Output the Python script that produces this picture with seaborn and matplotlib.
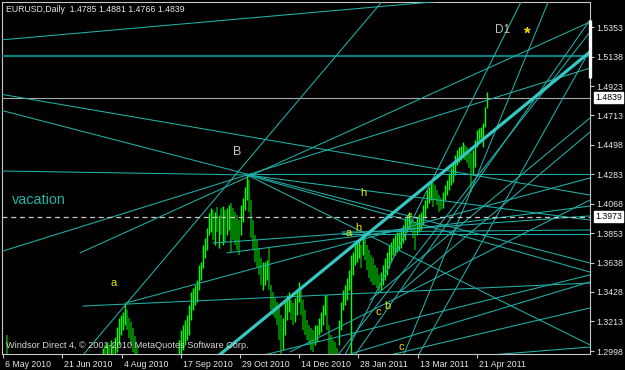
import matplotlib
matplotlib.use("Agg")
import matplotlib.pyplot as plt
import matplotlib.transforms as mtransforms
import numpy as np
import pandas as pd
import seaborn as sns

# ---------------- data ----------------
title_text = "EURUSD,Daily  1.4785 1.4881 1.4766 1.4839"
copyright_text = "Windsor Direct 4, \u00a9 2001-2010 MetaQuotes Software Corp."

x_tick_bars = [0, 29.5, 59.5, 89, 118.5, 148, 177.5, 207.5, 237]
x_tick_labels = ["6 May 2010", "21 Jun 2010", "4 Aug 2010", "17 Sep 2010", "29 Oct 2010",
                 "14 Dec 2010", "28 Jan 2011", "13 Mar 2011", "21 Apr 2011"]
y_tick_prices = [1.5353, 1.5138, 1.4923, 1.4713, 1.4498, 1.4283, 1.4068,
                 1.3853, 1.3638, 1.3428, 1.3213, 1.2998]

# candles (bar index, high, low, up/down)
bars_may = [2]
highs_may = [1.3114]
lows_may = [1.2950]
up_may = [0]

bars_aug = list(range(50, 68))
highs_aug = [1.3020, 1.3042, 1.3064, 1.3034, 1.3078, 1.3056, 1.3100, 1.3173, 1.3238,
             1.3260, 1.3282, 1.3347, 1.3296, 1.3238, 1.3209, 1.3165, 1.3107, 1.3042]
lows_aug = [1.2933, 1.2933, 1.2933, 1.2933, 1.2933, 1.2947, 1.2947, 1.2991, 1.3042,
            1.3114, 1.3151, 1.3187, 1.3151, 1.3093, 1.3042, 1.2991, 1.2933, 1.2933]
up_aug = [1, 0, 1, 0, 1, 0, 1, 1, 1, 1, 1, 1, 0, 0, 0, 0, 0, 0]

bars_main = list(range(88, 243))
highs_main = [
    1.3078, 1.3151, 1.3187, 1.3223, 1.3260, 1.3332, 1.3427, 1.3456, 1.3478, 1.3514,
    1.3623, 1.3645, 1.3769, 1.3820, 1.3892, 1.4001, 1.4038, 1.4023, 1.4009, 1.4045,
    1.3987, 1.4038, 1.4052, 1.4023, 1.4038, 1.4059, 1.4074, 1.4038, 1.4009, 1.3987,
    1.3950, 1.4059, 1.4110, 1.4190, 1.4278, 1.4241, 1.4096, 1.3950, 1.3841, 1.3805,
    1.3747, 1.3674, 1.3645, 1.3645, 1.3660, 1.3747, 1.3478, 1.3427, 1.3383, 1.3354,
    1.3332, 1.3260, 1.3238, 1.3369, 1.3405, 1.3427, 1.3369, 1.3347, 1.3383, 1.3441,
    1.3500, 1.3441, 1.3369, 1.3296, 1.3223, 1.3187, 1.3165, 1.3151, 1.3187, 1.3187,
    1.3238, 1.3282, 1.3332, 1.3405, 1.3405, 1.3187, 1.3114, 1.3078, 1.3064, 1.3020,
    1.3223, 1.3354, 1.3441, 1.3478, 1.3529, 1.3587, 1.3696, 1.3718, 1.3769, 1.3791,
    1.3805, 1.3769, 1.3856, 1.3834, 1.3769, 1.3732, 1.3696, 1.3674, 1.3623, 1.3601,
    1.3551, 1.3572, 1.3623, 1.3674, 1.3718, 1.3769, 1.3791, 1.3820, 1.3841, 1.3863,
    1.3863, 1.3878, 1.3914, 1.3965, 1.3987, 1.4009, 1.3987, 1.3950, 1.3929, 1.3965,
    1.3994, 1.4009, 1.4059, 1.4096, 1.4168, 1.4190, 1.4241, 1.4219, 1.4205, 1.4168,
    1.4132, 1.4110, 1.4154, 1.4205, 1.4241, 1.4292, 1.4328, 1.4365, 1.4423, 1.4459,
    1.4481, 1.4488, 1.4517, 1.4496, 1.4481, 1.4459, 1.4438, 1.4459, 1.4532, 1.4605,
    1.4619, 1.4627, 1.4656, 1.4772, 1.4881]
lows_main = [
    1.2933, 1.2969, 1.3005, 1.3042, 1.3078, 1.3114, 1.3223, 1.3296, 1.3332, 1.3354,
    1.3441, 1.3514, 1.3601, 1.3674, 1.3732, 1.3841, 1.3863, 1.3805, 1.3769, 1.3863,
    1.3747, 1.3841, 1.3769, 1.3791, 1.3841, 1.3878, 1.3718, 1.3805, 1.3769, 1.3732,
    1.3696, 1.3841, 1.3936, 1.4023, 1.4096, 1.4009, 1.3820, 1.3732, 1.3645, 1.3601,
    1.3551, 1.3478, 1.3441, 1.3478, 1.3514, 1.3441, 1.3296, 1.3260, 1.3238, 1.3187,
    1.3078, 1.2969, 1.3005, 1.3114, 1.3223, 1.3282, 1.3223, 1.3187, 1.3209, 1.3260,
    1.3354, 1.3260, 1.3151, 1.3114, 1.3078, 1.3042, 1.3005, 1.2991, 1.3042, 1.3064,
    1.3114, 1.3136, 1.3187, 1.3260, 1.3151, 1.2969, 1.2933, 1.2933, 1.2933, 1.2933,
    1.3042, 1.3151, 1.3296, 1.3332, 1.3369, 1.3441, 1.2969, 1.3551, 1.3623, 1.3645,
    1.3674, 1.3601, 1.3696, 1.3660, 1.3587, 1.3529, 1.3500, 1.3478, 1.3478, 1.3456,
    1.3420, 1.3441, 1.3478, 1.3514, 1.3551, 1.3601, 1.3645, 1.3696, 1.3696, 1.3718,
    1.3732, 1.3747, 1.3783, 1.3805, 1.3863, 1.3892, 1.3863, 1.3820, 1.3732, 1.3841,
    1.3863, 1.3878, 1.3914, 1.3965, 1.4038, 1.4074, 1.4096, 1.4045, 1.4096, 1.4059,
    1.4009, 1.4023, 1.4038, 1.4096, 1.4132, 1.4168, 1.4205, 1.4227, 1.4278, 1.4350,
    1.4372, 1.4387, 1.4401, 1.4387, 1.4365, 1.4328, 1.4154, 1.4278, 1.4336, 1.4481,
    1.4532, 1.4547, 1.4481, 1.4627, 1.4766]
up_main = [
    1, 1, 1, 1, 1, 1, 1, 1, 1, 1,
    1, 1, 1, 1, 1, 1, 1, 0, 1, 0,
    1, 0, 1, 0, 1, 1, 0, 0, 0, 0,
    0, 1, 1, 1, 1, 0, 0, 0, 0, 0,
    0, 0, 1, 1, 1, 0, 0, 0, 0, 0,
    0, 0, 1, 1, 1, 1, 0, 0, 1, 1,
    1, 0, 0, 0, 0, 0, 0, 0, 1, 1,
    1, 1, 1, 1, 0, 0, 0, 0, 0, 0,
    1, 1, 1, 1, 1, 1, 1, 1, 1, 1,
    1, 0, 1, 0, 0, 0, 0, 0, 0, 0,
    0, 1, 1, 1, 1, 1, 1, 1, 1, 1,
    1, 1, 1, 1, 1, 1, 0, 0, 0, 1,
    1, 1, 1, 1, 1, 1, 1, 0, 0, 0,
    0, 0, 1, 1, 1, 1, 1, 1, 1, 1,
    1, 1, 1, 0, 0, 0, 0, 1, 1, 1,
    1, 1, 1, 1, 1]

# horizontal levels
bid_price = 1.4839
marked_level = 1.3973
upper_level = 1.5140

# trend lines: start bar/price -> end bar/price
trend_bar0 = [-1.5, -1.5, -1.5, -1.5, 122.0, -1.5, 38.5, 40.0, 171.0, 200.5,
              208.0, 183.5, 198.5, 61.5, 40.0, 122.0, 122.0, 122.0, 105.0, 112.0,
              169.5, 169.5, 167.5, 176.0, 128.5, 143.5, 172.0, 193.5, 243.5]
trend_price0 = [1.5259, 1.4866, 1.4750, 1.4307, 1.4285, 1.3718, 1.3711, 1.2969, 1.2969, 1.2976,
                1.2976, 1.3369, 1.3427, 1.3347, 1.3325, 1.4278, 1.4278, 1.4278, 1.3783, 1.3711,
                1.3863, 1.3849, 1.2969, 1.2969, 1.2962, 1.2991, 1.2969, 1.2969, 1.2969]
trend_bar1 = [226.0, 293.5, 293.5, 122.0, 296.0, 293.5, 293.5, 191.0, 259.5, 273.0,
              293.5, 293.5, 293.5, 293.5, 293.5, 293.5, 293.5, 293.5, 293.5, 293.5,
              293.5, 293.5, 293.5, 293.5, 293.5, 293.5, 293.5, 293.5, 293.5]
trend_price1 = [1.5550, 1.4132, 1.3638, 1.4278, 1.4285, 1.5055, 1.5390, 1.5564, 1.5550, 1.5550,
                1.5186, 1.4692, 1.4590, 1.4256, 1.3492, 1.3042, 1.3950, 1.3572, 1.3980, 1.4052,
                1.3878, 1.3849, 1.5317, 1.5404, 1.3551, 1.4096, 1.3500, 1.3311, 1.3027]

channel_bars = [107.0, 293.5]
channel_prices = [1.2955, 1.5172]

# text labels on chart
yellow_texts = ["a", "h", "a", "h", "c", "b", "c", "e"]
yellow_bars = [55.5, 180.0, 173.0, 177.5, 187.5, 192.0, 199.0, 203.5]
yellow_prices = [1.3492, 1.4147, 1.3856, 1.3892, 1.3283, 1.3325, 1.3027, 1.3985]

# ---------------- style ----------------
sns.set_theme(style="dark")
plt.rcParams["font.family"] = ["Liberation Sans", "DejaVu Sans"]
plt.rcParams["axes.facecolor"] = "black"
plt.rcParams["figure.facecolor"] = "black"

TEAL = "#20b2aa"
GRID_GRAY = "#c8c8c8"
TXT = "#e6e6e6"
FS = 6.3

fig = plt.figure(figsize=(6.25, 3.7), dpi=100, facecolor="black")
ax = fig.add_axes([2 / 625, 16 / 370, 588 / 625, 352 / 370])
ax.set_facecolor("black")
ax.set_xlim(-0.5, 293.5)
ax.set_ylim(1.29762, 1.55353)
ax.grid(False)

# candles
all_bars = bars_may + bars_aug + bars_main
all_highs = highs_may + highs_aug + highs_main
all_lows = lows_may + lows_aug + lows_main
all_up = up_may + up_aug + up_main
cdf = pd.DataFrame({"bar": all_bars, "high": all_highs, "low": all_lows, "up": all_up})
up_df = cdf[cdf.up == 1]
dn_df = cdf[cdf.up == 0]
ax.vlines(dn_df.bar, dn_df.low, dn_df.high, color="#00a000", lw=1.1, zorder=2)
ax.vlines(up_df.bar, up_df.low, up_df.high, color="#00ff00", lw=1.0, zorder=2)

# horizontal levels
ax.axhline(upper_level, color="#0b7f7f", lw=1.6, zorder=3)
ax.axhline(bid_price, color="#a8a8a8", lw=0.8, zorder=3)
ax.axhline(marked_level, color="#c8c8c8", lw=0.9, ls=(0, (4, 3)), zorder=4)

# trend lines
for b0, p0, b1, p1 in zip(trend_bar0, trend_price0, trend_bar1, trend_price1):
    sns.lineplot(x=[b0, b1], y=[p0, p1], ax=ax, color=TEAL, lw=0.75,
                 sort=False, estimator=None, zorder=3)
sns.lineplot(x=channel_bars, y=channel_prices, ax=ax, color="#34c8c4", lw=2.3,
             sort=False, estimator=None, zorder=4)

# chart text
for t, b, p in zip(yellow_texts, yellow_bars, yellow_prices):
    ax.text(b, p, t, color="#e8e800", fontsize=8 if t != "e" else 6,
            ha="center", va="center", zorder=6)
ax.text(117.0, 1.4445, "B", color="#c8c8c8", fontsize=9, ha="center", va="center", zorder=6)
ax.text(250.0, 1.5332, "D1", color="#c0c0c0", fontsize=8.5, ha="center", va="center", zorder=6)
ax.text(262.0, 1.5300, "*", color="#f0e000", fontsize=12, fontweight="bold",
        ha="center", va="center", zorder=6)
ax.text(4.5, 1.4096, "vacation", color=TEAL, fontsize=10.4, ha="left", va="center", zorder=6)
ax.text(4 / 588, 8 / 352, copyright_text, transform=ax.transAxes, color="#d8d8d8",
        fontsize=6.6, ha="left", va="center", zorder=7)
fig.text(6 / 625, 1 - 10 / 370, title_text, color=TXT, fontsize=FS, ha="left", va="center")

# axes, ticks
for s in ax.spines.values():
    s.set_visible(True)
    s.set_color(GRID_GRAY)
    s.set_linewidth(0.8)
ax.yaxis.tick_right()
ax.set_yticks(y_tick_prices)
ax.set_yticklabels([f"{v:.4f}" for v in y_tick_prices])
ax.set_xticks(x_tick_bars)
ax.set_xticklabels(x_tick_labels)
ax.tick_params(axis="both", colors=GRID_GRAY, labelcolor=TXT, length=3, width=0.8,
               labelsize=FS, direction="out")
ax.tick_params(axis="x", pad=1.5, bottom=True)
ax.tick_params(axis="y", pad=1.5, right=True, left=False)
offset = mtransforms.ScaledTranslation(2 / 100, 0, fig.dpi_scale_trans)
for lbl in ax.get_xticklabels():
    lbl.set_horizontalalignment("left")
    lbl.set_transform(lbl.get_transform() + offset)
ax.set_xlabel("")
ax.set_ylabel("")

ytrans = ax.get_yaxis_transform()
for lvl in [bid_price, marked_level]:
    ax.text(1.0 + 5 / 588, lvl, f"{lvl:.4f}", transform=ytrans, ha="left", va="center",
            fontsize=FS, color="black", clip_on=False, zorder=10,
            bbox=dict(boxstyle="square,pad=0.12", facecolor="white", edgecolor="white"))
ax.plot([1.0, 1.0], [1.4983, 1.5404], transform=ytrans, color="white", lw=2.4,
        clip_on=False, solid_capstyle="butt", zorder=10)

fig.savefig("out.png", dpi=100, facecolor="black")
